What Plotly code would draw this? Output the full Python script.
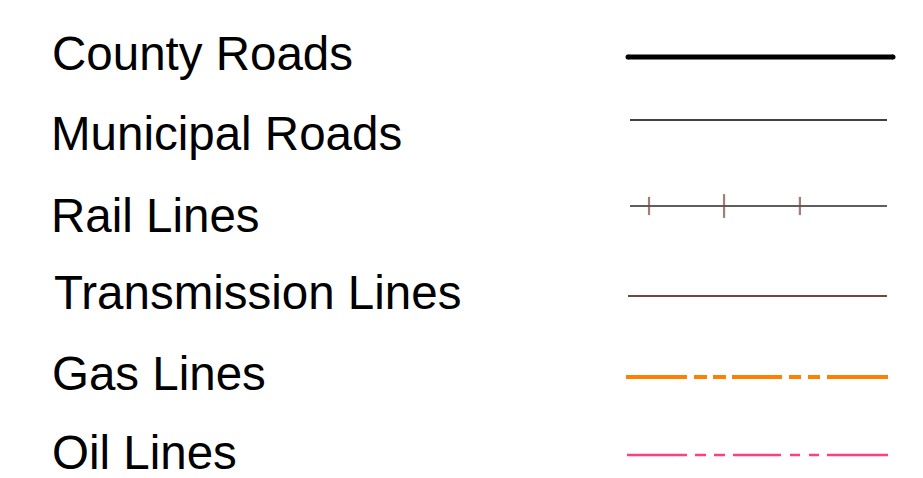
import plotly.graph_objects as go

# Legend content
labels = ["County Roads", "Municipal Roads", "Rail Lines", "Transmission Lines", "Gas Lines", "Oil Lines"]
line_colors = ["#000000", "#000000", "#2a2a2a", "#6e4a3a", "#ff8000", "#ff4080"]
line_widths = [5, 1.5, 1.5, 2, 4, 2.5]
line_dashes = [
    "solid", "solid", "solid", "solid",
    "61px,7px,13px,6px,13px,6px,50px,7px,12px,7px,12px,7px,61px",
    "60px,8px,11px,8px,11px,8px,48px,9px,10px,9px,10px,8px,61px",
]
rail_tick_color = "#7a4a3a"
rail_tick_fracs = [0.074, 0.366, 0.661]
rail_tick_sizes = [13, 17, 13]

# layout (screen pixel space)
W, H = 923, 478
PAD = 8  # default page body margin
text_x = [50, 49, 49, 52, 50, 50]
text_baseline = [70, 150, 232, 309, 390, 469]
line_y = [57, 120, 206, 296, 377, 455]
line_x0 = [628, 630, 630, 628, 626, 627]
line_x1 = [893, 887, 887, 887, 888, 888]
font_size = 47.5

fig = go.Figure()
for i, lab in enumerate(labels):
    fig.add_trace(go.Scatter(
        x=[line_x0[i], line_x1[i]], y=[line_y[i], line_y[i]],
        mode="lines",
        line=dict(color=line_colors[i], width=line_widths[i], dash=line_dashes[i]),
        hoverinfo="skip", showlegend=False,
    ))
    fig.add_annotation(
        x=text_x[i], y=text_baseline[i] - 16.5, xref="x", yref="y",
        text=lab, showarrow=False, xanchor="left", yanchor="middle",
        font=dict(family="Liberation Sans, Arial, sans-serif", size=font_size, color="#000000"),
    )

# rounded caps for county road
fig.add_trace(go.Scatter(
    x=[line_x0[0], line_x1[0]], y=[line_y[0], line_y[0]], mode="markers",
    marker=dict(symbol="circle", size=5, color=line_colors[0], line=dict(width=0)),
    hoverinfo="skip", showlegend=False,
))

# rail ticks
ri = 2
tick_x = [line_x0[ri] + f * (line_x1[ri] - line_x0[ri]) for f in rail_tick_fracs]
fig.add_trace(go.Scatter(
    x=tick_x, y=[line_y[ri]] * len(tick_x), mode="markers",
    marker=dict(symbol="line-ns", size=rail_tick_sizes, line=dict(color=rail_tick_color, width=2.2)),
    hoverinfo="skip", showlegend=False,
))

fig.update_layout(
    width=W - 2 * PAD, height=H - 2 * PAD,
    margin=dict(l=0, r=0, t=0, b=0),
    paper_bgcolor="white", plot_bgcolor="white",
    xaxis=dict(range=[PAD, W - PAD], visible=False, fixedrange=True),
    yaxis=dict(range=[H - PAD, PAD], visible=False, fixedrange=True),
    showlegend=False,
)
fig.write_html("out.html", config={"displayModeBar": False})
